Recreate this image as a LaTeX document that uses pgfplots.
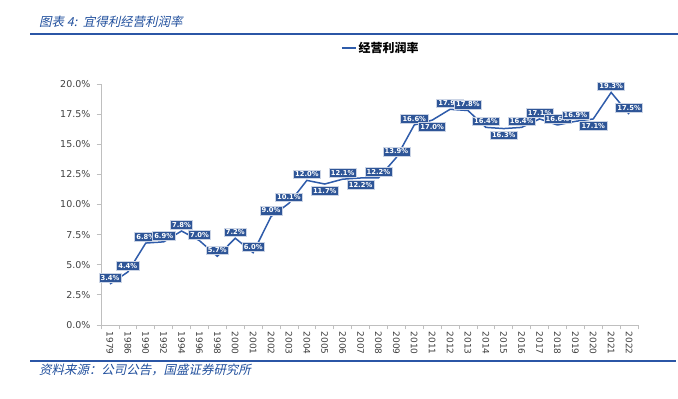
\documentclass[border=0pt]{standalone}
\usepackage{pgfplots}
\pgfplotsset{compat=1.18}
\usepackage{fontspec}
\setmainfont{DejaVu Sans}
\newfontfamily\cjk{Noto Sans CJK SC}
\newfontfamily\cjkit{Noto Sans CJK SC}[FakeSlant=0.22]
\definecolor{lineblue}{HTML}{2F5CAA}
\definecolor{boxblue}{HTML}{2E5597}
\definecolor{hdrblue}{HTML}{2B56A6}
\definecolor{txtblue}{HTML}{1F4E9C}
\definecolor{tickgray}{HTML}{404040}
\definecolor{axgray}{HTML}{BFBFBF}

\pgfplotstableread{
x y
0 3.4
1 4.4
2 6.8
3 6.9
4 7.8
5 7.0
6 5.7
7 7.2
8 6.0
9 9.0
10 10.1
11 12.0
12 11.7
13 12.1
14 12.2
15 12.2
16 13.9
17 16.6
18 17.0
19 17.9
20 17.8
21 16.4
22 16.3
23 16.4
24 17.1
25 16.6
26 16.9
27 17.1
28 19.3
29 17.5
}\datatable

\pgfplotstableread{
x y
0 3.4
1 4.4
2 6.8
3 6.9
4 7.8
5 7.0
6 5.7
7 7.2
8 6.0
9 9.0
10 10.1
11 12.0
13 12.1
15 12.2
16 13.9
17 16.6
19 17.9
20 17.8
21 16.4
23 16.4
24 17.1
25 16.6
26 16.9
28 19.3
29 17.5
}\abovetable

\pgfplotstableread{
x y
12 11.7
14 12.2
18 17.0
22 16.3
27 17.1
}\belowtable

\begin{document}
\begin{tikzpicture}
\useasboundingbox (0bp,0bp) rectangle (678bp,399bp);
\draw[hdrblue, line width=1.6bp] (30bp,365bp) -- (678bp,365bp);
\node[anchor=west, inner sep=0pt, text=txtblue, font=\cjkit\fontsize{12.5}{14}\selectfont] at (39bp,377bp) {图表 4:\ \ 宜得利经营利润率};
\draw[hdrblue, line width=1.2bp] (30bp,38bp) -- (676bp,38bp);
\node[anchor=west, inner sep=0pt, text=txtblue, font=\cjkit\fontsize{12.5}{14}\selectfont] at (39bp,29bp) {资料来源：公司公告，国盛证券研究所};

\begin{axis}[
  at={(101bp,74bp)}, anchor=south west,
  scale only axis, width=537bp, height=241bp,
  xmin=-0.5, xmax=29.5, ymin=0, ymax=20,
  axis lines=left,
  axis line style={-, draw=axgray, line width=0.8bp},
  tick style={draw=axgray, line width=0.8bp},
  tick align=outside,
  major tick length=4.5bp,
  xtick={-0.5,0.5,...,29.5},
  xticklabels={1979,1986,1990,1992,1994,1996,1998,2000,2001,2002,2003,2004,2005,2006,2007,2008,2009,2010,2011,2012,2013,2014,2015,2016,2017,2018,2019,2020,2021,2022,{}},
  xticklabel style={xshift=8.95bp, rotate=-90, anchor=west, inner sep=2pt, font=\fontsize{9}{10}\selectfont, text=tickgray},
  ytick={0,2.5,...,20},
  yticklabel={\pgfmathprintnumber[fixed,fixed zerofill,precision=1,assume math mode=true]{\tick}\%},
  yticklabel style={font=\fontsize{9.5}{11}\selectfont, text=tickgray, inner sep=2pt, xshift=-4bp},
  legend style={at={(0.521,1.149)}, anchor=center, draw=none, fill=none, font=\cjk\bfseries\fontsize{12}{14}\selectfont, inner sep=0pt},
  legend image code/.code={\draw[lineblue, line width=1.6bp] (0bp,0bp) -- (14bp,0bp);},
  clip=false,
]
\addplot[lineblue, line width=1.5bp, no markers] table[x=x,y=y]{\datatable};
\addlegendentry{经营利润率}
\addplot[draw=none, no markers, forget plot,
  nodes near coords={\pgfmathprintnumber[fixed,fixed zerofill,precision=1,assume math mode=true]{\pgfplotspointmeta}\%},
  point meta=explicit,
  every node near coord/.style={anchor=south, yshift=1.5bp, fill=boxblue, draw=white!75!boxblue, line width=0.5bp, text=white, inner sep=1.8bp, font=\bfseries\fontsize{6.8}{7.5}\selectfont}]
  table[x=x,y=y,meta=y]{\abovetable};
\addplot[draw=none, no markers, forget plot,
  nodes near coords={\pgfmathprintnumber[fixed,fixed zerofill,precision=1,assume math mode=true]{\pgfplotspointmeta}\%},
  point meta=explicit,
  every node near coord/.style={anchor=north, yshift=-2bp, fill=boxblue, draw=white!75!boxblue, line width=0.5bp, text=white, inner sep=1.8bp, font=\bfseries\fontsize{6.8}{7.5}\selectfont}]
  table[x=x,y=y,meta=y]{\belowtable};
\end{axis}
\end{tikzpicture}
\end{document}
